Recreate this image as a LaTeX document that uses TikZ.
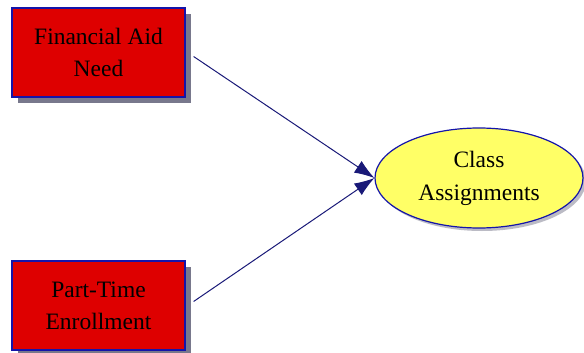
\documentclass[tikz,border=0pt]{standalone}
\usepackage{fontspec}
\setmainfont{Liberation Serif}
\usetikzlibrary{arrows.meta,shapes.geometric,shadows}
\definecolor{boxred}{RGB}{222,0,0}
\definecolor{boxblue}{RGB}{20,20,170}
\definecolor{ellyellow}{RGB}{255,255,102}
\definecolor{arrowblue}{RGB}{25,25,120}
\definecolor{shadowgray}{RGB}{120,120,140}
\tikzset{
  varbox/.style={draw=boxblue, line width=1.2pt, fill=boxred, minimum width=173pt, minimum height=89pt,
    align=center, font=\fontsize{23.5}{32}\selectfont, inner sep=0pt,
    drop shadow={shadow xshift=6pt, shadow yshift=-6pt, fill=shadowgray, opacity=1}},
  outcome/.style={ellipse, draw=boxblue, line width=1.2pt, fill=ellyellow, minimum width=208pt, minimum height=100pt,
    align=center, font=\fontsize{23.5}{33}\selectfont, inner sep=0pt,
    drop shadow={shadow xshift=3pt, shadow yshift=-3pt, fill=shadowgray, opacity=0.5}},
  link/.style={draw=arrowblue, line width=1pt, -{Latex[length=20pt,width=14pt]}}
}
\begin{document}
\begin{tikzpicture}[x=1pt,y=-1pt]
\useasboundingbox[fill=white] (0,0) rectangle (584,353);
\node[varbox] (fin) at (98.5,52.5) {Financial Aid\\Need};
\node[varbox] (pt) at (98.5,305.5) {Part-Time\\Enrollment};
\node[outcome] (ca) at (479,178) {Class\\Assignments};
\draw[link] (fin.east) ++(8,4) -- (ca.west);
\draw[link] (pt.east) ++(8,-4) -- (ca.west);
\end{tikzpicture}
\end{document}
